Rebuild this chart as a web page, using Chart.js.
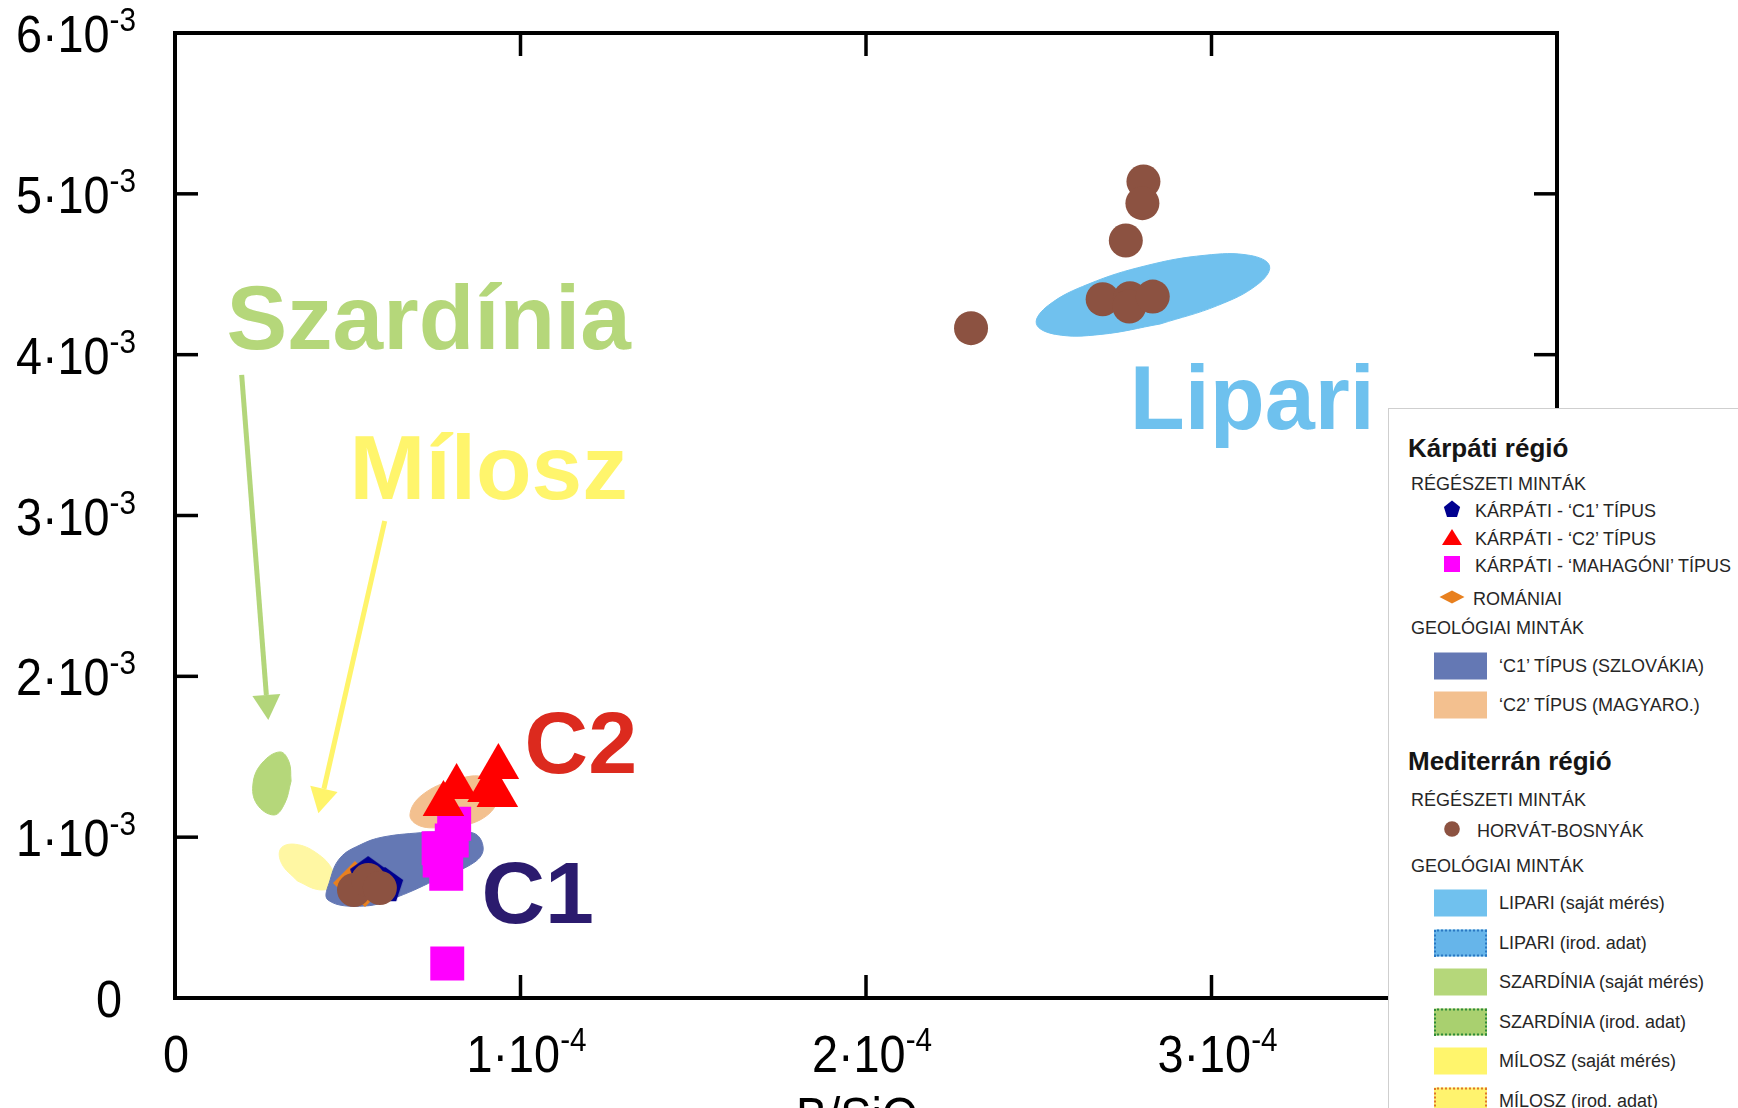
<!DOCTYPE html>
<html lang="hu">
<head>
<meta charset="utf-8">
<title>B/SiO2 diagram</title>
<script src="https://cdn.jsdelivr.net/npm/chart.js@4.4.1/dist/chart.umd.min.js"></script>
<style>
  html, body { margin: 0; padding: 0; background: #fff; overflow: hidden; }
  #wrap { position: relative; width: 1738px; height: 1108px; overflow: hidden; font-family: "Liberation Sans", Arial, sans-serif; }
  #chart { position: absolute; left: 0; top: 0; }
  #legend { position: absolute; left: 1388px; top: 408px; width: 420px; height: 760px; background: #fff; border: 1.5px solid #cfcfcf; color: #262626; }
  #legend .row { position: absolute; white-space: nowrap; font-size: 18px; line-height: 20px; transform: translateY(-50%); }
  #legend .head { font-size: 26px; line-height: 28px; font-weight: bold; color: #151515; }
  #legend .mk { position: absolute; transform: translate(-50%, -50%); }
  #legend .sw { position: absolute; width: 53px; height: 27px; transform: translateY(-50%); box-sizing: border-box; }
</style>
</head>
<body>
<div id="wrap">
  <canvas id="chart" width="1738" height="1108"></canvas>
  <div id="legend"></div>
</div>
<script>
// --- régészeti minták (pontok) ---
const hbX = [2.803e-4, 2.800e-4, 2.752e-4, 2.685e-4, 2.764e-4, 2.762e-4, 2.830e-4, 2.304e-4, 0.518e-4, 0.559e-4, 0.593e-4];
const hbY = [5.077e-3, 4.942e-3, 4.710e-3, 4.345e-3, 4.351e-3, 4.299e-3, 4.361e-3, 4.165e-3, 0.672e-3, 0.734e-3, 0.684e-3];
const c1X = [0.559e-4, 0.608e-4];
const c1Y = [0.777e-3, 0.709e-3];
const c2X = [0.777e-4, 0.815e-4, 0.936e-4, 0.933e-4, 0.906e-4];
const c2Y = [1.206e-3, 1.312e-3, 1.437e-3, 1.262e-3, 1.294e-3];
const mahX = [0.763e-4, 0.808e-4, 0.785e-4, 0.766e-4, 0.801e-4, 0.788e-4];
const mahY = [0.931e-3, 1.083e-3, 0.772e-3, 0.855e-3, 0.979e-3, 0.214e-3];
const romX = [0.521e-4, 0.550e-4];
const romY = [0.715e-3, 0.703e-3];

// --- geológiai minták (mezők körvonala) ---
const lipX = [2.852, 2.680, 2.549, 2.493, 2.528, 2.644, 2.810, 2.981, 3.112, 3.168, 3.133, 3.017, 2.852].map(v => v * 1e-4);
const lipY = [4.191, 4.126, 4.126, 4.193, 4.307, 4.439, 4.553, 4.618, 4.617, 4.551, 4.436, 4.305, 4.191].map(v => v * 1e-3);
const szaX = [0.336, 0.318, 0.287, 0.237, 0.226, 0.252, 0.304, 0.330, 0.336].map(v => v * 1e-4);
const szaY = [1.349, 1.212, 1.138, 1.206, 1.337, 1.461, 1.530, 1.468, 1.349].map(v => v * 1e-3);
const milX = [0.354, 0.309, 0.306, 0.348, 0.410, 0.456, 0.458, 0.416, 0.354].map(v => v * 1e-4);
const milY = [0.728, 0.835, 0.929, 0.956, 0.901, 0.795, 0.700, 0.673, 0.728].map(v => v * 1e-3);
const fc1X = [0.729, 0.863, 0.892, 0.868, 0.767, 0.643, 0.550, 0.443, 0.449, 0.478, 0.535, 0.602, 0.729].map(v => v * 1e-4);
const fc1Y = [1.032, 1.026, 0.933, 0.846, 0.746, 0.628, 0.572, 0.609, 0.734, 0.871, 0.951, 1.001, 1.032].map(v => v * 1e-3);
const fc2X = [0.781, 0.709, 0.680, 0.715, 0.810, 0.897, 0.932, 0.883, 0.781].map(v => v * 1e-4);
const fc2Y = [1.057, 1.070, 1.138, 1.262, 1.356, 1.368, 1.231, 1.107, 1.057].map(v => v * 1e-3);

// --- feliratok, nyilak ---
const fieldLabels = ['Szardínia', 'Mílosz', 'Lipari', 'C2', 'C1'];
const labelX = [0.1575e-4, 0.514e-4, 2.772e-4, 1.0205e-4, 0.8955e-4];
const labelY = [4.036e-3, 3.104e-3, 3.539e-3, 1.402e-3, 0.4646e-3];
const labelColor = ['#B5D77A', '#FFF56C', '#6EC1EE', '#DC2A1E', '#2B1B6E'];
const labelSize = [91, 91, 90, 88, 88];
const arrowFromX = [0.193e-4, 0.607e-4];
const arrowFromY = [3.874e-3, 2.966e-3];
const arrowToX = [0.270e-4, 0.415e-4];
const arrowToY = [1.729e-3, 1.149e-3];
const arrowColor = ['#B3D67A', '#FFF46A'];

const xTickStep = 1e-4, xExp = -4;
const yTickStep = 1e-3, yExp = -3;

const pts = (xs, ys) => xs.map((x, i) => ({ x, y: ys[i] }));

function makePentagon(r, color) {
    const c = document.createElement('canvas');
    const s = Math.ceil(r * 2 + 2);
    c.width = s; c.height = s;
    const g = c.getContext('2d');
    g.fillStyle = color;
    g.beginPath();
    for (let i = 0; i < 5; i++) {
        const a = -Math.PI / 2 + i * 2 * Math.PI / 5;
        const px = s / 2 + r * Math.cos(a), py = s / 2 + r * Math.sin(a) + r * 0.1;
        if (i) g.lineTo(px, py); else g.moveTo(px, py);
    }
    g.closePath();
    g.fill();
    return c;
}

function field(label, xs, ys, color, order) {
    return {
        type: 'line', label, data: pts(xs, ys), order,
        borderColor: color, backgroundColor: color, borderWidth: 1,
        pointRadius: 0, fill: 'shape', tension: 0.4
    };
}

// tudományos jelölés felső indexszel
function drawSci(ctx, main, sup, x, base, align) {
    ctx.save();
    ctx.translate(x, base);
    ctx.scale(0.9, 1);
    ctx.font = '52px "Liberation Sans", Arial, sans-serif';
    const wM = ctx.measureText(main).width;
    ctx.font = '33px "Liberation Sans", Arial, sans-serif';
    const wS = sup ? ctx.measureText(sup).width : 0;
    const total = wM + wS;
    const sx = align === 'right' ? -total : align === 'center' ? -total / 2 : 0;
    ctx.textAlign = 'left';
    ctx.textBaseline = 'alphabetic';
    ctx.font = '52px "Liberation Sans", Arial, sans-serif';
    ctx.fillText(main, sx, 0);
    if (sup) {
        ctx.font = '33px "Liberation Sans", Arial, sans-serif';
        ctx.fillText(sup, sx + wM, -21);
    }
    ctx.restore();
}

const decor = {
    id: 'decor',
    afterDatasetsDraw(chart) {
        const { ctx, chartArea: a, scales: { x, y } } = chart;
        ctx.save();

        // nyilak
        arrowFromX.forEach((fx, i) => {
            const x0 = x.getPixelForValue(fx), y0 = y.getPixelForValue(arrowFromY[i]);
            const x1 = x.getPixelForValue(arrowToX[i]), y1 = y.getPixelForValue(arrowToY[i]);
            const ang = Math.atan2(y1 - y0, x1 - x0);
            const hl = 25, hw = 14;
            const bx = x1 - hl * Math.cos(ang), by = y1 - hl * Math.sin(ang);
            ctx.strokeStyle = arrowColor[i];
            ctx.fillStyle = arrowColor[i];
            ctx.lineWidth = 5;
            ctx.beginPath(); ctx.moveTo(x0, y0); ctx.lineTo(bx, by); ctx.stroke();
            ctx.beginPath();
            ctx.moveTo(x1, y1);
            ctx.lineTo(bx + hw * Math.sin(ang), by - hw * Math.cos(ang));
            ctx.lineTo(bx - hw * Math.sin(ang), by + hw * Math.cos(ang));
            ctx.closePath(); ctx.fill();
        });

        // mezőnevek
        fieldLabels.forEach((t, i) => {
            ctx.font = `bold ${labelSize[i]}px "Liberation Sans", Arial, sans-serif`;
            ctx.fillStyle = labelColor[i];
            ctx.textAlign = 'left';
            ctx.textBaseline = 'alphabetic';
            ctx.fillText(t, x.getPixelForValue(labelX[i]) - 3, y.getPixelForValue(labelY[i]));
        });

        // keret és befelé mutató osztások
        ctx.strokeStyle = '#000';
        ctx.lineWidth = 4;
        ctx.strokeRect(a.left, a.top, a.right - a.left, a.bottom - a.top);
        ctx.lineWidth = 3.5;
        const seg = (x0, y0, x1, y1) => { ctx.beginPath(); ctx.moveTo(x0, y0); ctx.lineTo(x1, y1); ctx.stroke(); };
        x.ticks.forEach(t => {
            if (t.value <= x.min || t.value >= x.max) return;
            const px = x.getPixelForValue(t.value);
            seg(px, a.bottom, px, a.bottom - 23);
            seg(px, a.top, px, a.top + 23);
        });
        y.ticks.forEach(t => {
            if (t.value <= y.min || t.value >= y.max) return;
            const py = y.getPixelForValue(t.value);
            seg(a.left, py, a.left + 23, py);
            seg(a.right, py, a.right - 23, py);
        });

        // osztásfeliratok
        ctx.fillStyle = '#000';
        x.ticks.forEach(t => {
            const m = Math.round(t.value / xTickStep);
            const px = x.getPixelForValue(t.value);
            if (m === 0) drawSci(ctx, '0', '', px + 1, a.bottom + 74, 'center');
            else drawSci(ctx, m + '·10', String(xExp), px + 6, a.bottom + 74, 'center');
        });
        y.ticks.forEach(t => {
            const m = Math.round(t.value / yTickStep);
            const py = y.getPixelForValue(t.value);
            if (m === 0) drawSci(ctx, '0', '', a.left - 53, py + 19, 'right');
            else drawSci(ctx, m + '·10', String(yExp), a.left - 39, py + 19, 'right');
        });

        // x tengely címe (alul levágva)
        ctx.save();
        ctx.translate(796, a.bottom + 136);
        ctx.scale(0.9, 1);
        ctx.font = '52px "Liberation Sans", Arial, sans-serif';
        ctx.textAlign = 'left';
        ctx.fillText('B/SiO', 0, 0);
        const w = ctx.measureText('B/SiO').width;
        ctx.font = '33px "Liberation Sans", Arial, sans-serif';
        ctx.fillText('2', w, 12);
        ctx.restore();

        ctx.restore();
    }
};

const pentagon = makePentagon(19, '#00008F');

new Chart(document.getElementById('chart').getContext('2d'), {
    type: 'scatter',
    data: {
        datasets: [
            { label: 'HORVÁT-BOSNYÁK', data: pts(hbX, hbY), order: 1, pointStyle: 'circle', pointRadius: 17, backgroundColor: '#8C5241', borderWidth: 0 },
            { label: 'KÁRPÁTI - ‘C2’ TÍPUS', data: pts(c2X, c2Y), order: 2, pointStyle: 'triangle', pointRadius: 24, backgroundColor: '#FF0000', borderWidth: 0 },
            { label: 'KÁRPÁTI - ‘MAHAGÓNI’ TÍPUS', data: pts(mahX, mahY), order: 3, pointStyle: 'rect', pointRadius: 24, backgroundColor: '#FF00FF', borderWidth: 0 },
            { label: 'KÁRPÁTI - ‘C1’ TÍPUS', data: pts(c1X, c1Y), order: 4, pointStyle: pentagon, pointRadius: 19, backgroundColor: '#00008F', borderWidth: 0 },
            { label: 'ROMÁNIAI', data: pts(romX, romY), order: 5, pointStyle: 'rectRot', pointRadius: 22, backgroundColor: '#E8801F', borderWidth: 0 },
            field('‘C1’ TÍPUS (SZLOVÁKIA)', fc1X, fc1Y, '#6478B4', 6),
            field('‘C2’ TÍPUS (MAGYARO.)', fc2X, fc2Y, '#F3C08F', 7),
            field('LIPARI (saját mérés)', lipX, lipY, '#70C1EE', 8),
            field('SZARDÍNIA (saját mérés)', szaX, szaY, '#B5D77A', 9),
            field('MÍLOSZ (irod. adat)', milX, milY, '#FFF7A3', 10)
        ]
    },
    options: {
        responsive: false,
        animation: false,
        events: [],
        layout: { padding: { left: 0, right: 181, top: 33, bottom: 0 }, autoPadding: false },
        plugins: { legend: { display: false }, tooltip: { enabled: false } },
        scales: {
            x: {
                type: 'linear', min: 0, max: 4e-4,
                ticks: { stepSize: xTickStep, display: false },
                grid: { display: false }, border: { display: false },
                afterFit(s) { s.height = 110; }
            },
            y: {
                type: 'linear', min: 0, max: 6e-3,
                ticks: { stepSize: yTickStep, display: false },
                grid: { display: false }, border: { display: false },
                afterFit(s) { s.width = 175; }
            }
        }
    },
    plugins: [decor]
});

// --- jelmagyarázat ---
const marks = {
    pentagon: '<svg width="20" height="20" viewBox="-10 -10 20 20"><polygon points="0,-8.5 8.1,-2.1 5,8 -5,8 -8.1,-2.1" fill="#00008F"/></svg>',
    triangle: '<svg width="22" height="18" viewBox="-11 -9 22 18"><polygon points="0,-8 10,8 -10,8" fill="#FF0000"/></svg>',
    square: '<svg width="16" height="16"><rect width="16" height="16" fill="#FF00FF"/></svg>',
    diamond: '<svg width="26" height="14" viewBox="-13 -7 26 14"><polygon points="-12.5,0 0,-6.5 12.5,0 0,6.5" fill="#E8801F"/></svg>',
    circle: '<svg width="16" height="16"><circle cx="8" cy="8" r="7.8" fill="#8C5241"/></svg>'
};
const legendRows = [
    { kind: 'head', text: 'Kárpáti régió', y: 39 },
    { kind: 'sub', text: 'RÉGÉSZETI MINTÁK', y: 75 },
    { kind: 'mark', mark: 'pentagon', text: 'KÁRPÁTI - ‘C1’ TÍPUS', y: 102, tx: 86 },
    { kind: 'mark', mark: 'triangle', text: 'KÁRPÁTI - ‘C2’ TÍPUS', y: 130, tx: 86 },
    { kind: 'mark', mark: 'square', text: 'KÁRPÁTI - ‘MAHAGÓNI’ TÍPUS', y: 157, tx: 86 },
    { kind: 'mark', mark: 'diamond', text: 'ROMÁNIAI', y: 190, tx: 84 },
    { kind: 'sub', text: 'GEOLÓGIAI MINTÁK', y: 219 },
    { kind: 'swatch', fill: '#6478B4', text: '‘C1’ TÍPUS (SZLOVÁKIA)', y: 257 },
    { kind: 'swatch', fill: '#F3C08F', text: '‘C2’ TÍPUS (MAGYARO.)', y: 296 },
    { kind: 'head', text: 'Mediterrán régió', y: 352 },
    { kind: 'sub', text: 'RÉGÉSZETI MINTÁK', y: 391 },
    { kind: 'mark', mark: 'circle', text: 'HORVÁT-BOSNYÁK', y: 422, tx: 88 },
    { kind: 'sub', text: 'GEOLÓGIAI MINTÁK', y: 457 },
    { kind: 'swatch', fill: '#70C1EE', text: 'LIPARI (saját mérés)', y: 494 },
    { kind: 'swatch', fill: '#66B5EA', dot: '#2A78C2', text: 'LIPARI (irod. adat)', y: 534 },
    { kind: 'swatch', fill: '#B5D77A', text: 'SZARDÍNIA (saját mérés)', y: 573 },
    { kind: 'swatch', fill: '#A9D06F', dot: '#2E8B3A', text: 'SZARDÍNIA (irod. adat)', y: 613 },
    { kind: 'swatch', fill: '#FFF56C', text: 'MÍLOSZ (saját mérés)', y: 652 },
    { kind: 'swatch', fill: '#FFF36E', dot: '#E0752A', text: 'MÍLOSZ (irod. adat)', y: 692 }
];
const lg = document.getElementById('legend');
lg.innerHTML = legendRows.map(r => {
    if (r.kind === 'head') return `<div class="row head" style="left:19px;top:${r.y}px">${r.text}</div>`;
    if (r.kind === 'sub') return `<div class="row" style="left:22px;top:${r.y}px">${r.text}</div>`;
    if (r.kind === 'mark') return `<div class="mk" style="left:63px;top:${r.y}px">${marks[r.mark]}</div>` +
        `<div class="row" style="left:${r.tx}px;top:${r.y}px">${r.text}</div>`;
    const border = r.dot ? `border:2px dotted ${r.dot};` : '';
    return `<div class="sw" style="left:45px;top:${r.y}px;background:${r.fill};${border}"></div>` +
        `<div class="row" style="left:110px;top:${r.y}px">${r.text}</div>`;
}).join('');
</script>
</body>
</html>
